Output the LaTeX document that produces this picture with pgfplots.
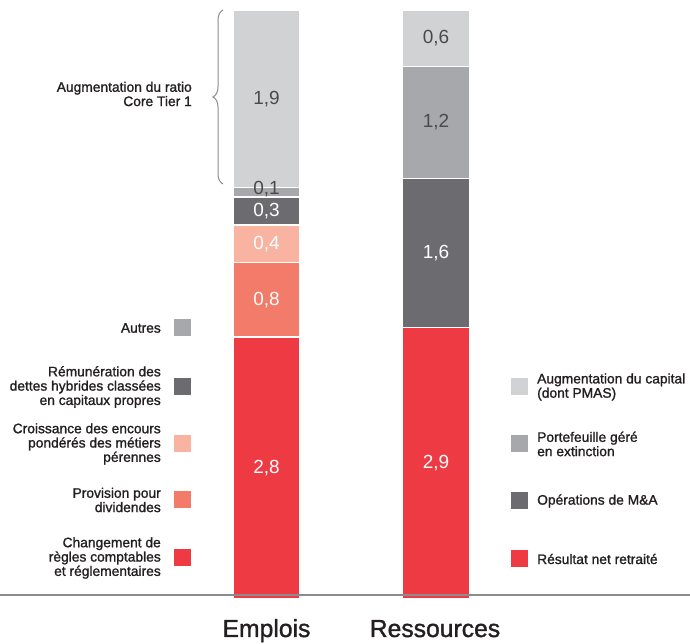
\documentclass[border=0pt]{standalone}
\usepackage{pgfplots}
\pgfplotsset{compat=1.18}
\usepackage{fontspec}
\setmainfont{Liberation Sans}
\newfontfamily\semibold[FakeBold=1.3]{Liberation Sans}
\usetikzlibrary{decorations.pathreplacing}

\definecolor{cRed}{HTML}{EE3A43}
\definecolor{cSalmon}{HTML}{F27B6A}
\definecolor{cPeach}{HTML}{F9B3A1}
\definecolor{cDark}{HTML}{6B6B70}
\definecolor{cMid}{HTML}{A7A8AB}
\definecolor{cLight}{HTML}{D1D2D4}
\definecolor{cText}{HTML}{231F20}
\definecolor{cVal}{HTML}{4A4A4C}
\definecolor{cAxis}{HTML}{8C8C8C}

\pgfplotsset{
  stackbar/.style={
    at={(0,49)}, anchor=south west,
    scale only axis, width=690pt, height=588pt,
    xmin=0, xmax=690, ymin=0, ymax=6.3,
    hide axis, clip=false,
    ybar stacked, bar width=67,
    every axis plot/.append style={draw=white, line width=1.4pt},
  },
}
\newcommand{\lgfont}{\semibold\fontsize{13.8}{14.3}\selectfont}
\newcommand{\valfont}{\fontsize{19}{19}\selectfont}

\begin{document}
\begin{tikzpicture}[x=1pt,y=1pt]
\useasboundingbox (0,0) rectangle (690,644);

% Emplois
\begin{axis}[stackbar]
\addplot[fill=cRed]    coordinates {(266.5,2.8)};
\addplot[fill=cSalmon] coordinates {(266.5,0.8)};
\addplot[fill=cPeach]  coordinates {(266.5,0.4)};
\addplot[fill=cDark]   coordinates {(266.5,0.3)};
\addplot[fill=cMid]    coordinates {(266.5,0.1)};
\addplot[fill=cLight]  coordinates {(266.5,1.9)};
\coordinate (e1) at (axis cs:266.5,1.40);
\coordinate (e2) at (axis cs:266.5,3.20);
\coordinate (e3) at (axis cs:266.5,3.80);
\coordinate (e4) at (axis cs:266.5,4.15);
\coordinate (e5) at (axis cs:266.5,4.38);
\coordinate (e6) at (axis cs:266.5,5.35);
\end{axis}

% Ressources
\begin{axis}[stackbar]
\addplot[fill=cRed]   coordinates {(436,2.9)};
\addplot[fill=cDark]  coordinates {(436,1.6)};
\addplot[fill=cMid]   coordinates {(436,1.2)};
\addplot[fill=cLight] coordinates {(436,0.6)};
\coordinate (r1) at (axis cs:436,1.45);
\coordinate (r2) at (axis cs:436,3.70);
\coordinate (r3) at (axis cs:436,5.10);
\coordinate (r4) at (axis cs:436,6.00);
\end{axis}

% values
\foreach \p/\c/\t in {e1/white/{2,8}, e2/white/{0,8}, e3/white/{0,4}, e4/white/{0,3},
  e5/cVal/{0,1}, e6/cVal/{1,9}, r1/white/{2,9}, r2/white/{1,6}, r3/cVal/{1,2}, r4/cVal/{0,6}}
  \node[text=\c, font=\valfont, inner sep=0] at (\p) {\t};

% base line
\draw[cAxis, line width=1.5pt] (0,49) -- (690,49);

% category names
\node[anchor=base, text=cText, font=\semibold\fontsize{24.7}{24.7}\selectfont] at (266.5,7) {Emplois};
\node[anchor=base, text=cText, font=\semibold\fontsize{24.7}{24.7}\selectfont] at (435,7) {Ressources};

% brace and its label
\draw[cAxis, line width=1pt, decorate, decoration={brace, amplitude=10pt}]
  (223,460) -- (223,634);
\node[anchor=east, align=right, inner sep=0, text=cText, font=\lgfont] at (192,550)
  {Augmentation du ratio\\Core Tier 1};

% left legend
\foreach \y/\c/\t in {
  316/cMid/{Autres},
  257/cDark/{Rémunération des\\dettes hybrides classées\\en capitaux propres},
  200/cPeach/{Croissance des encours\\pondérés des métiers\\pérennes},
  144/cSalmon/{Provision pour\\dividendes},
  86/cRed/{Changement de\\règles comptables\\et réglementaires}} {
  \fill[\c] (174,\y-8.5) rectangle (191,\y+8.5);
  \node[anchor=east, align=right, inner sep=0, text=cText, font=\lgfont] at (161,\y) {\t};
}

% right legend
\foreach \y/\c/\t in {
  257/cLight/{Augmentation du capital\\(dont PMAS)},
  200/cMid/{Portefeuille géré\\en extinction},
  143/cDark/{Opérations de M\&A},
  85/cRed/{Résultat net retraité}} {
  \fill[\c] (511,\y-8.5) rectangle (528,\y+8.5);
  \node[anchor=west, align=left, inner sep=0, text=cText, font=\lgfont] at (537,\y) {\t};
}
\end{tikzpicture}
\end{document}
